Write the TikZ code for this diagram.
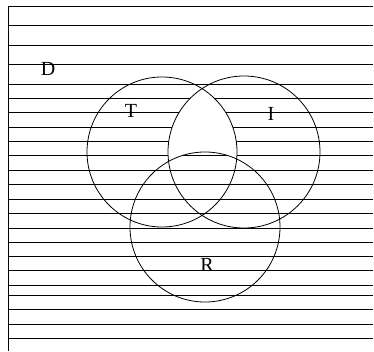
\documentclass[tikz,border=0pt]{standalone}
\usepackage{fontspec}
\setmainfont{Liberation Serif}
\begin{document}
\begin{tikzpicture}[x=1pt,y=-1pt,
  rule/.style={line width=0.9pt},
  setcircle/.style={line width=0.8pt},
  lab/.style={font=\fontsize{20}{20}\selectfont, inner sep=0pt}]
\useasboundingbox (0,0) rectangle (374,351);
\def\rules{%
  \foreach \yy in {6.7,25.7,45,64.3,84,98.3,112.7,127.3,141,155.7,170.3,184.3,199,213.3,228.3,242.3,256,270.7,285.3,295,309.3,324,338.3}
    {\draw[rule] (8.3,\yy) -- (373,\yy);}}
\rules
\draw[rule] (8.3,6.7) -- (8.3,351);
% white lens T and I outside R
\begin{scope}
  \clip (162,152) circle[radius=75];
  \fill[white] (244,152) circle[radius=76];
\end{scope}
\begin{scope}
  \clip (205,227) circle[radius=75];
  \rules
\end{scope}
\draw[setcircle] (162,152) circle[radius=75];
\draw[setcircle] (244,152) circle[radius=76];
\draw[setcircle] (205,227) circle[radius=75];
\node[lab] (D) at (48,69) {D};
\node[lab] (T) at (131,111) {T};
\node[lab] (I) at (271,114) {I};
\node[lab] (R) at (207,265) {R};
\end{tikzpicture}
\end{document}
